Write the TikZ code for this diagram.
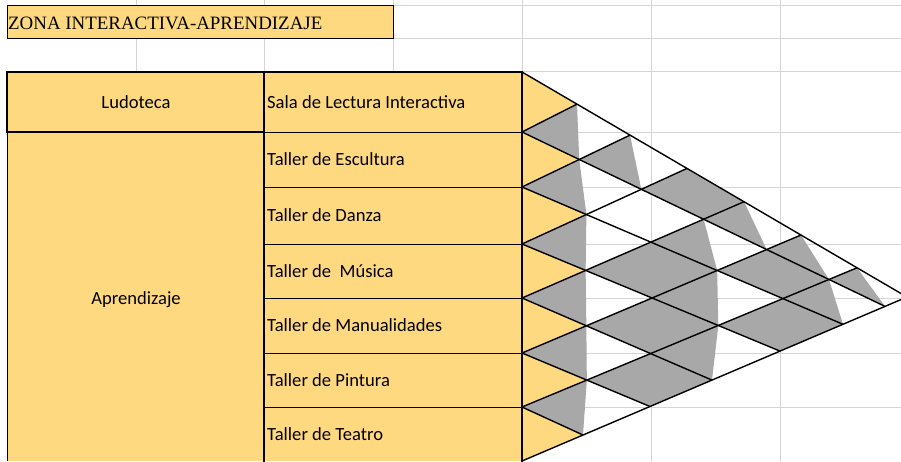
\documentclass[tikz,border=0pt]{standalone}
\usepackage{fontspec}
\setmainfont{Carlito}
\newfontfamily\titlefont{Liberation Serif}
\definecolor{cellyellow}{HTML}{FFD980}
\definecolor{cellgrey}{HTML}{A8A8A8}
\definecolor{gridgrey}{HTML}{D4D4D4}
\begin{document}
\begin{tikzpicture}[x=1pt,y=-1pt,
  gridline/.style={draw=gridgrey, line width=0.9pt},
  thickline/.style={line width=1.8pt, line cap=rect},
  thinline/.style={line width=0.9pt},
  latline/.style={line width=1.4pt},
  yellowtri/.style={fill=cellyellow},
  greytri/.style={fill=cellgrey},
  celltext/.style={anchor=base west, inner sep=0pt, font=\fontsize{18.6}{22}\selectfont},
  ctext/.style={anchor=base, inner sep=0pt, font=\fontsize{18.6}{22}\selectfont}]
\useasboundingbox (0,0) rectangle (901,461);
\clip (0,0) rectangle (901,461);
\fill[white] (0,0) rectangle (901,461);
% spreadsheet gridlines
\foreach \gx in {136,264,393,522,651,780} \draw[gridline] (\gx,0) -- (\gx,461);
\foreach \gy in {5.5,38,71,132,187,244,298,353,407} \draw[gridline] (7,\gy) -- (901,\gy);
% title cell
\draw[thinline, fill=cellyellow] (7,5.5) rectangle (393,38);
\node[anchor=base west, inner sep=0pt, font=\titlefont\fontsize{18.9}{22}\selectfont] (title) at (8,29.5) {ZONA INTERACTIVA-APRENDIZAJE};
% table fill
\fill[cellyellow] (7,72) rectangle (522,461);
% lattice points: left edge
\coordinate (N00) at (522,72);
\coordinate (N11) at (522,132);
\coordinate (N22) at (522,187);
\coordinate (N33) at (522,244);
\coordinate (N44) at (522,298);
\coordinate (N55) at (522,353);
\coordinate (N66) at (522,407);
\coordinate (N77) at (522,461);
% apex
\coordinate (N07) at (907,297);
% points on the upper edge
\coordinate (N01) at (577,104.1);
\coordinate (N02) at (630,135.1);
\coordinate (N03) at (687,168.4);
\coordinate (N04) at (744,201.7);
\coordinate (N05) at (801,235.0);
\coordinate (N06) at (857,267.8);
% points on the lower edge
\coordinate (N17) at (885,306.4);
\coordinate (N27) at (843,324.3);
\coordinate (N37) at (780,351.1);
\coordinate (N47) at (712,380.1);
\coordinate (N57) at (650,406.5);
\coordinate (N67) at (583,435.0);
% inner crossings
\foreach \i in {1,...,5}{\foreach \j in {2,...,6}{\ifnum\j>\i
  \coordinate (N\i\j) at (intersection of N\i\i--N\i7 and N\j\j--N0\j);\fi}}
% grey half diamonds
\foreach \a/\b/\c in {N11/N01/N12, N22/N12/N23, N33/N23/N34, N44/N34/N45, N55/N45/N56, N66/N56/N67,
  N12/N02/N13, N56/N46/N57,
  N24/N14/N25, N35/N25/N36, N46/N36/N47,
  N14/N04/N15, N15/N05/N16, N26/N16/N27, N16/N06/N17}
  \fill[greytri] (\a) -- (\b) -- (\c) -- cycle;
% grey full diamonds
\foreach \a/\b/\c/\d in {N34/N24/N25/N35, N45/N35/N36/N46, N56/N46/N47/N57,
  N13/N03/N04/N14, N25/N15/N16/N26, N36/N26/N27/N37}
  \fill[greytri] (\a) -- (\b) -- (\c) -- (\d) -- cycle;
% yellow row triangles
\foreach \a/\b in {0/1,1/2,2/3,3/4,4/5,5/6,6/7}
  \fill[yellowtri] (N\a\a) -- (N\b\b) -- (N\a\b) -- cycle;
% lattice lines
\foreach \i in {0,...,6} \draw[latline] (N\i\i) -- (N\i7);
\foreach \j in {1,...,7} \draw[latline] (N\j\j) -- (N0\j);
% table borders
\draw[thickline] (7,72) -- (522,72);
\draw[thickline] (7,72) -- (7,132);
\draw[thinline] (7,132) -- (7,461);
\draw[thickline] (7,132) -- (264,132);
\draw[thinline] (264,132) -- (522,132);
\draw[thickline] (264,72) -- (264,461);
\draw[thickline] (522,72) -- (522,461);
\foreach \y in {187,244,298,353,407} \draw[thinline] (264,\y) -- (522,\y);
% texts
\node[ctext] (ludoteca) at (136,108) {Ludoteca};
\node[ctext] (aprendizaje) at (136,304) {Aprendizaje};
\node[celltext] (sala) at (267,108) {Sala de Lectura Interactiva};
\node[celltext] (escultura) at (267,165.5) {Taller de Escultura};
\node[celltext] (danza) at (267,221.5) {Taller de Danza};
\node[celltext] (musica) at (267,277) {Taller de\ \ Música};
\node[celltext] (manualidades) at (267,331.5) {Taller de Manualidades};
\node[celltext] (pintura) at (267,386) {Taller de Pintura};
\node[celltext] (teatro) at (267,440) {Taller de Teatro};
\end{tikzpicture}
\end{document}
